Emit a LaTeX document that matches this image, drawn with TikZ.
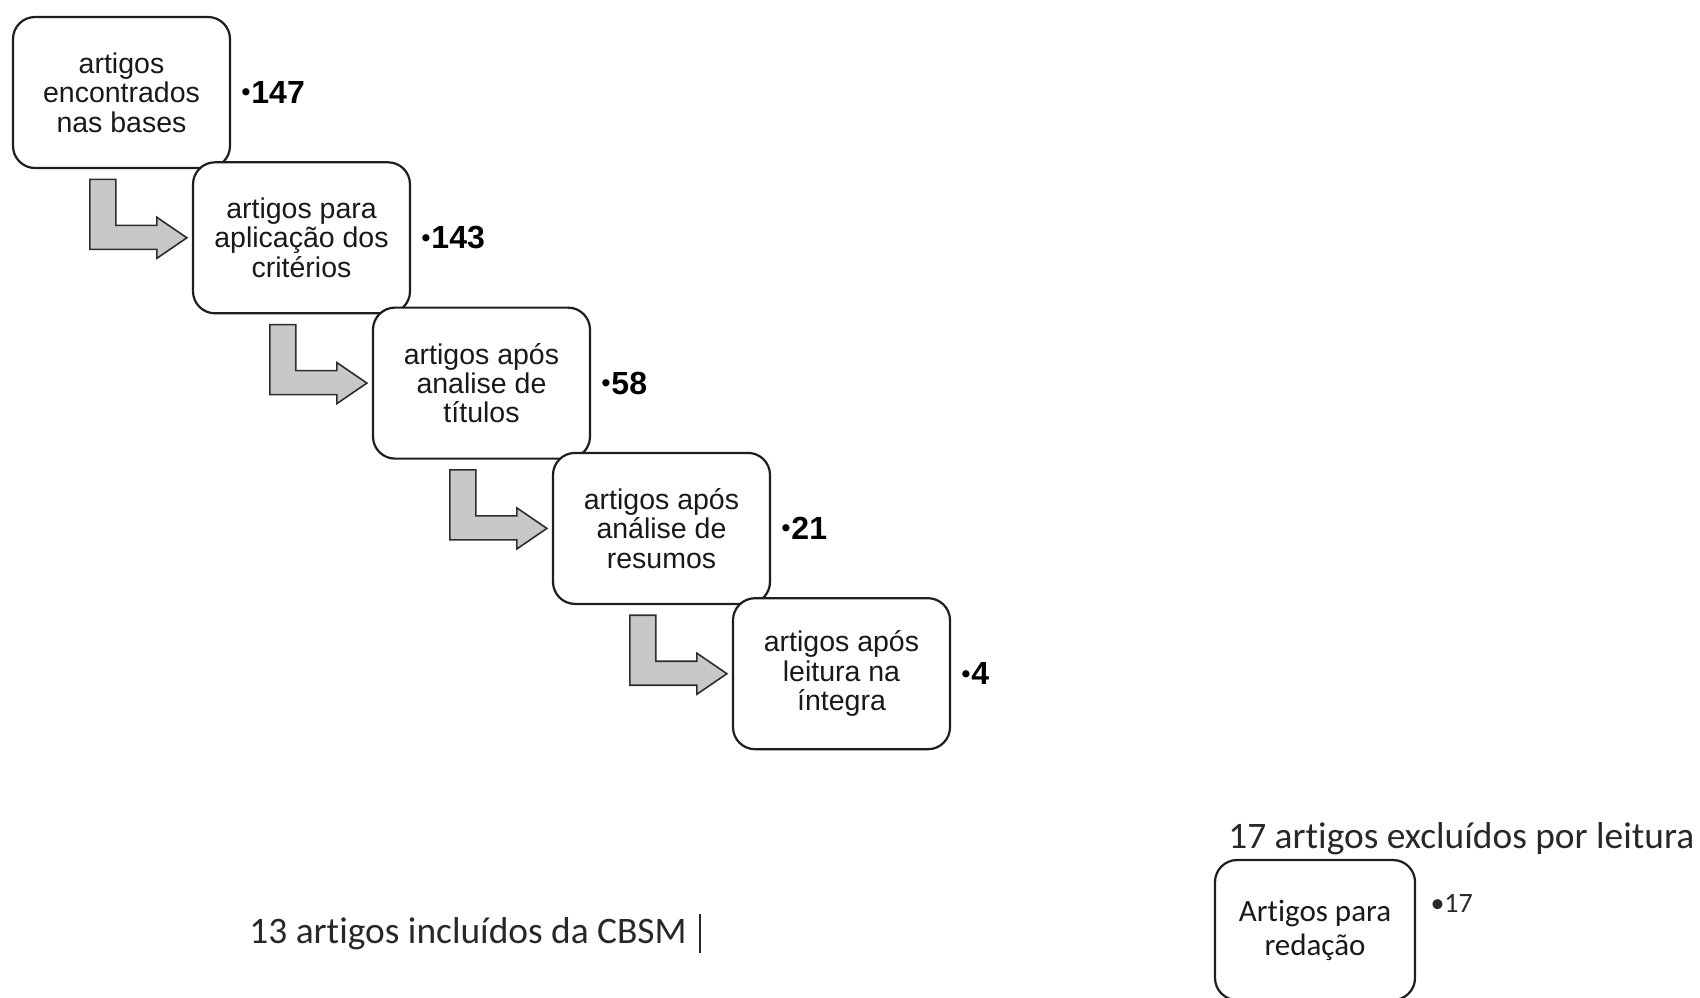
\documentclass[tikz,border=0pt]{standalone}
\usepackage{fontspec}
\setmainfont{Liberation Sans}
\newfontfamily\calfont[Ligatures={NoCommon,NoDiscretionary,NoContextual}]{Carlito}
\usetikzlibrary{positioning,calc}
\definecolor{boxbdr}{RGB}{30,30,30}
\definecolor{arrfill}{RGB}{200,200,200}
\definecolor{arrbdr}{RGB}{45,45,45}
\definecolor{txtclr}{RGB}{25,25,25}
\definecolor{notetext}{RGB}{40,40,40}
\newcommand{\smbul}{\raisebox{1.3pt}{\fontsize{12.5}{12.5}\selectfont•}\kern0.6pt}
\tikzset{
  sblk/.style={rectangle,rounded corners=11pt,draw=boxbdr,fill=white,line width=1.1pt,
    minimum width=108.5pt,minimum height=75.5pt,
    font=\fontsize{14.25}{14.7}\selectfont,align=center,text=txtclr,inner sep=2pt},
  cblk/.style={sblk,minimum width=100pt,minimum height=70pt,
    font=\calfont\fontsize{15.5}{17}\selectfont},
  cnt/.style={font=\fontsize{16}{16}\selectfont\bfseries,inner sep=0pt,text=black},
  ccnt/.style={font=\calfont\fontsize{14}{14}\selectfont,inner sep=0pt,text=notetext},
  note/.style={font=\calfont\fontsize{18.7}{20}\selectfont,inner sep=0pt,text=notetext},
  barr/.style={draw=arrbdr,fill=arrfill,line width=0.8pt,line join=miter},
}
\begin{document}
\begin{tikzpicture}[x=0.5pt,y=-0.5pt]
  \useasboundingbox (0,0) rectangle (1700,997);

  \node[sblk] (b1) at (121.5,92.5)  {artigos\\encontrados\\nas bases};
  \node[sblk] (b2) at (301.5,237.8) {artigos para\\aplicação dos\\critérios};
  \node[sblk] (b3) at (481.5,383.1) {artigos após\\analise de\\títulos};
  \node[sblk] (b4) at (661.5,528.4) {artigos após\\análise de\\resumos};
  \node[sblk] (b5) at (841.5,673.7) {artigos após\\leitura na\\íntegra};

  \node[cnt,right=5pt of b1] (n1) {\smbul 147};
  \node[cnt,right=5pt of b2] (n2) {\smbul 143};
  \node[cnt,right=5pt of b3] (n3) {\smbul 58};
  \node[cnt,right=5pt of b4] (n4) {\smbul 21};
  \node[cnt,right=5pt of b5] (n5) {\smbul 4};

  % bent arrows between the steps
  \foreach \b in {b2,b3,b4,b5}
    \draw[barr,shift={(\b.west)}] (-5,0) -- (-35,-20.5) -- (-35,-12.5) -- (-76,-12.5)
      -- (-76,-58.5) -- (-102,-58.5) -- (-102,11.5) -- (-35,11.5) -- (-35,20.5) -- cycle;

  \node[cblk] (b6) at (1315,930) {Artigos para\\redação};
  \node[ccnt,anchor=west] (n6) at ($(b6.north east)+(14,45)$) {•17};
  \node[note,anchor=base west] (t6) at ($(b6.north west)+(14,-10)$) {17 artigos excluídos por leitura};

  \node[note,anchor=base west] (t1) at (249,943)
    {13 artigos incluídos da CBSM\hspace{6pt}\rule[-5pt]{0.9pt}{19.5pt}};
\end{tikzpicture}
\end{document}
